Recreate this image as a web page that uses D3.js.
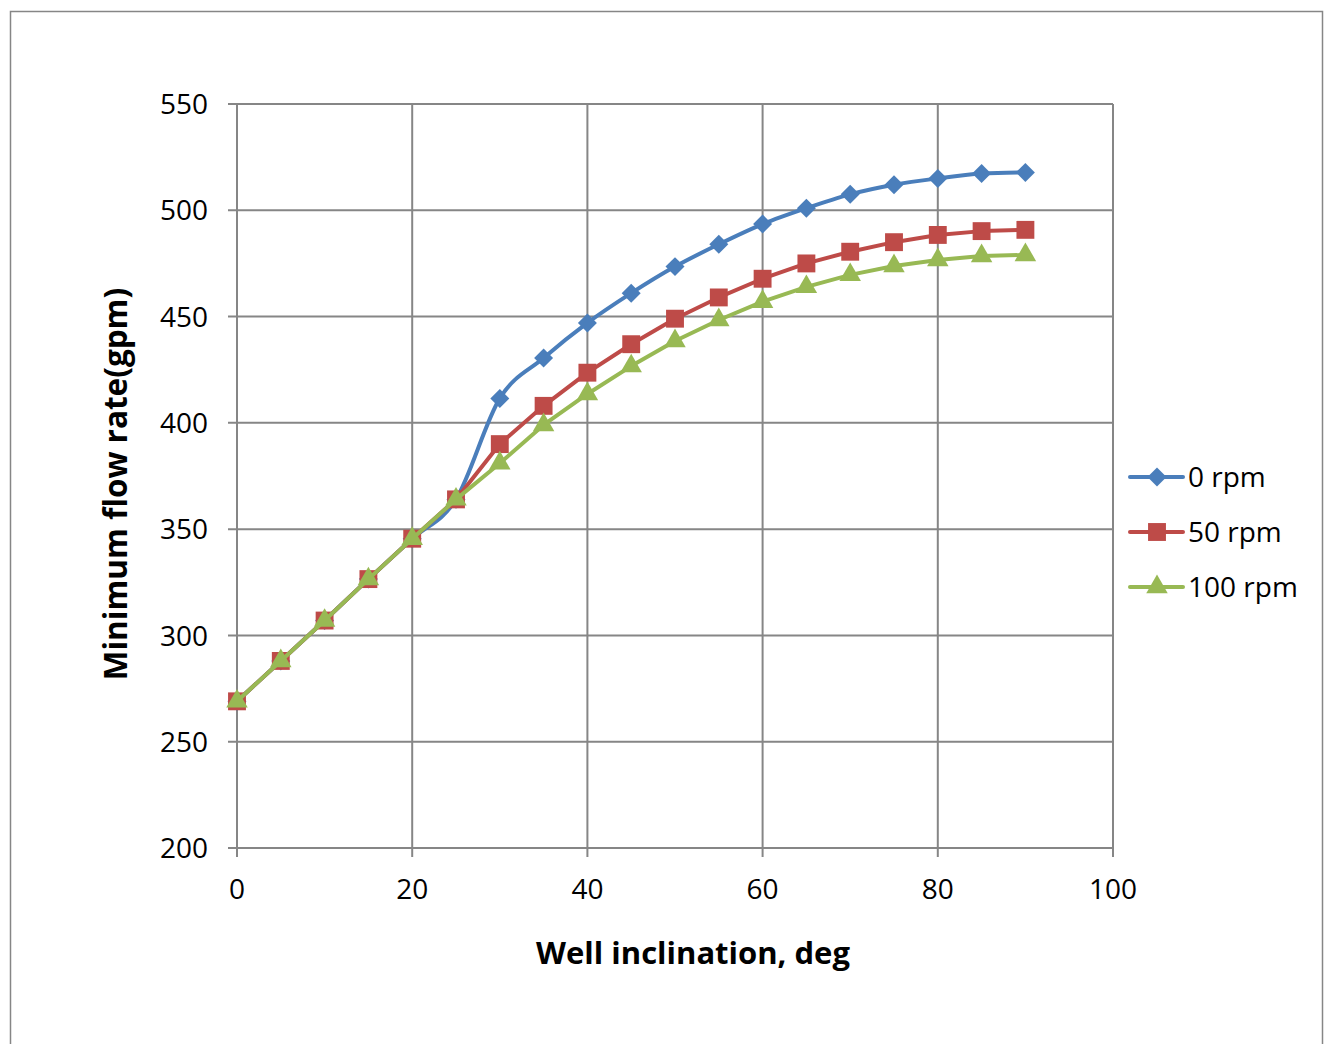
<!DOCTYPE html>
<html>
<head>
<meta charset="utf-8">
<script src="https://cdn.jsdelivr.net/npm/d3@7"></script>
<style>
  body { margin: 0; background: #fff; }
  svg { display: block; font-family: 'Open Sans', 'Liberation Sans', sans-serif; }
</style>
</head>
<body>
<svg id="chart" width="1330" height="1044"></svg>
<script>
// Data
var inclination = [0, 5, 10, 15, 20, 25, 30, 35, 40, 45, 50, 55, 60, 65, 70, 75, 80, 85, 90];
var rpm0 = [269, 288, 307, 326.5, 345.5, 364, 411.5, 430.5, 447, 461, 473.5, 484, 493.5, 501, 507.5, 512, 515, 517.3, 517.8];
var rpm50 = [269, 288, 307, 326.5, 345.5, 364, 390, 408, 423.6, 437, 449, 459, 467.8, 475, 480.5, 485, 488.4, 490.2, 490.8];
var rpm100 = [269, 288, 307, 326.5, 345.5, 364, 381, 399, 413.6, 426.7, 438.5, 448.4, 457, 464, 469.6, 473.8, 476.6, 478.5, 479];
var seriesNames = ['0 rpm', '50 rpm', '100 rpm'];
var xTicks = [0, 20, 40, 60, 80, 100];
var yTicks = [200, 250, 300, 350, 400, 450, 500, 550];

var svg = d3.select('#chart');
var grid = '#868686';

// Outer chart border
svg.append('rect')
   .attr('x', 10.5).attr('y', 11.5)
   .attr('width', 1312).attr('height', 1060)
   .attr('fill', 'none')
   .attr('stroke', grid)
   .attr('stroke-width', 1.5);

var x = d3.scaleLinear().domain([0, 100]).range([237, 1113]);
var y = d3.scaleLinear().domain([200, 550]).range([848, 104]);

// Grid lines
svg.append('g').selectAll('line')
   .data(yTicks)
   .enter().append('line')
   .attr('x1', 228).attr('x2', x(100))
   .attr('y1', function (d) { return y(d); })
   .attr('y2', function (d) { return y(d); })
   .attr('stroke', grid).attr('stroke-width', 2);
svg.append('g').selectAll('line')
   .data(xTicks)
   .enter().append('line')
   .attr('y1', y(550)).attr('y2', 857)
   .attr('x1', function (d) { return x(d); })
   .attr('x2', function (d) { return x(d); })
   .attr('stroke', grid).attr('stroke-width', 2);

// Tick labels
svg.append('g').selectAll('text')
   .data(yTicks)
   .enter().append('text')
   .attr('x', 208)
   .attr('y', function (d) { return y(d); })
   .attr('dy', '0.36em')
   .attr('text-anchor', 'end')
   .attr('font-size', 28)
   .text(function (d) { return d; });
svg.append('g').selectAll('text')
   .data(xTicks)
   .enter().append('text')
   .attr('x', function (d) { return x(d); })
   .attr('y', 889)
   .attr('dy', '0.36em')
   .attr('text-anchor', 'middle')
   .attr('font-size', 28)
   .text(function (d) { return d; });

// Axis titles
svg.append('text')
   .attr('x', 693).attr('y', 953)
   .attr('dy', '0.36em')
   .attr('text-anchor', 'middle')
   .attr('font-size', 31)
   .attr('font-weight', 'bold')
   .text('Well inclination, deg');
svg.append('text')
   .attr('transform', 'translate(116,484) rotate(-90)')
   .attr('dy', '0.36em')
   .attr('text-anchor', 'middle')
   .attr('font-size', 31.5)
   .attr('font-weight', 'bold')
   .text('Minimum flow rate(gpm)');

// Series
var series = [
  { name: seriesNames[0], values: rpm0, color: '#4A7EBB', marker: d3.symbolSquare, size: 180, rotate: 45, curve: d3.curveCardinal.tension(0) },
  { name: seriesNames[1], values: rpm50, color: '#BE4B48', marker: d3.symbolSquare, size: 320, rotate: 0, curve: d3.curveLinear },
  { name: seriesNames[2], values: rpm100, color: '#98B954', marker: d3.symbolTriangle, size: 200, rotate: 0, curve: d3.curveLinear }
];

series.forEach(function (s) {
  var line = d3.line()
               .x(function (d, i) { return x(inclination[i]); })
               .y(function (d) { return y(d); })
               .curve(s.curve);
  var g = svg.append('g').attr('class', 'series');
  g.append('path')
   .attr('d', line(s.values))
   .attr('fill', 'none')
   .attr('stroke', s.color)
   .attr('stroke-width', 4)
   .attr('stroke-linejoin', 'round')
   .attr('stroke-linecap', 'round');
  g.selectAll('path.marker')
   .data(s.values)
   .enter().append('path')
   .attr('class', 'marker')
   .attr('transform', function (d, i) {
     return 'translate(' + x(inclination[i]) + ',' + y(d) + ') rotate(' + s.rotate + ')';
   })
   .attr('d', d3.symbol().type(s.marker).size(s.size))
   .attr('fill', s.color);
});

// Legend
var legend = svg.append('g').selectAll('g')
   .data(series)
   .enter().append('g')
   .attr('transform', function (d, i) { return 'translate(1130,' + (477 + i * 55) + ')'; });
legend.append('line')
   .attr('x1', 0).attr('x2', 53)
   .attr('stroke', function (d) { return d.color; })
   .attr('stroke-width', 4)
   .attr('stroke-linecap', 'round');
legend.append('path')
   .attr('transform', function (d) { return 'translate(27,0) rotate(' + d.rotate + ')'; })
   .attr('d', function (d) { return d3.symbol().type(d.marker).size(d.size)(); })
   .attr('fill', function (d) { return d.color; });
legend.append('text')
   .attr('x', 58)
   .attr('dy', '0.36em')
   .attr('font-size', 28)
   .text(function (d) { return d.name; });
</script>
</body>
</html>
